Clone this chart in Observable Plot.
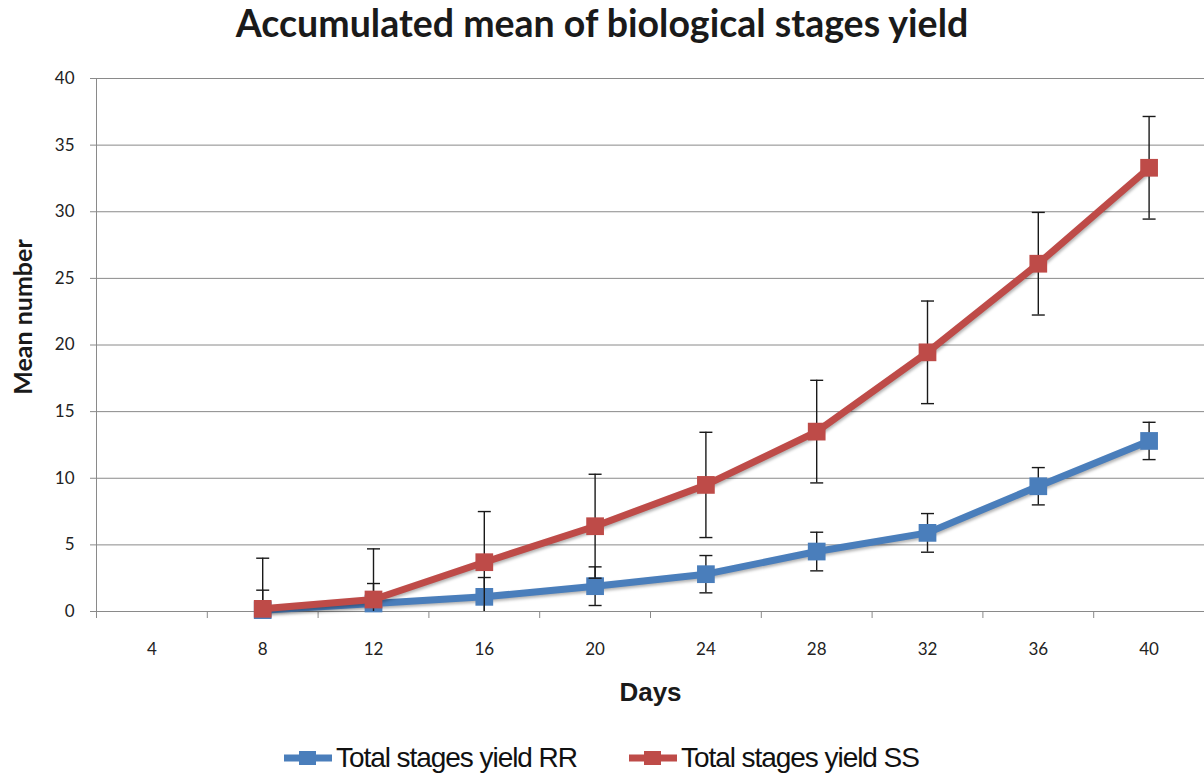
<!DOCTYPE html>
<html><head><meta charset="utf-8">
<script src="https://cdn.jsdelivr.net/npm/d3@7"></script>
<script src="https://cdn.jsdelivr.net/npm/@observablehq/plot@0.6"></script>
<style>
body{margin:0;background:#fff;width:1204px;height:774px;overflow:hidden;position:relative;}
#title{position:absolute;left:0;top:5px;width:1204px;text-align:center;font:bold 37.5px Lato,sans-serif;line-height:36px;color:#1a1a1a;}
#chart{position:absolute;left:0;top:56px;}
.leg{position:absolute;top:742px;height:31px;display:flex;align-items:center;font-family:"Liberation Sans",Arial,sans-serif;font-size:28px;letter-spacing:-1.05px;line-height:31px;color:#111;white-space:nowrap;}
.leg svg{margin-right:3px;}
</style></head><body>
<div id="title">Accumulated mean of biological stages yield</div>
<div id="chart"></div>
<div id="legend"></div>
<script>
// Category ticks on the x axis (Days)
const dayTicks = [4, 8, 12, 16, 20, 24, 28, 32, 36, 40];
// Days with data
const days = [8, 12, 16, 20, 24, 28, 32, 36, 40];
// Total stages yield RR: mean and error
const rrMean = [0.1, 0.6, 1.1, 1.9, 2.8, 4.5, 5.9, 9.4, 12.8];
const rrErr  = [1.5, 1.5, 1.45, 1.45, 1.4, 1.45, 1.45, 1.4, 1.4];
// Total stages yield SS: mean and error
const ssMean = [0.2, 0.9, 3.7, 6.4, 9.5, 13.5, 19.45, 26.1, 33.3];
const ssErr  = [3.8, 3.8, 3.8, 3.9, 3.95, 3.85, 3.85, 3.85, 3.85];
// Y ticks
const yTicks = [0, 5, 10, 15, 20, 25, 30, 35, 40];
const seriesNames = ["Total stages yield RR", "Total stages yield SS"];
const seriesColors = ["#4a7ebb", "#be4b48"];

const rr = days.map((d, i) => ({day: d, mean: rrMean[i], err: rrErr[i]}));
const ss = days.map((d, i) => ({day: d, mean: ssMean[i], err: ssErr[i]}));
const boundaries = [dayTicks[0] - 2, ...dayTicks.map(d => d + 2)];

const cap = {draw(ctx) { ctx.moveTo(-6.5, 0); ctx.lineTo(6.5, 0); }};
const errMarks = (rows) => [
  Plot.ruleX(rows, {x: "day", y1: d => d.mean - d.err, y2: d => d.mean + d.err, stroke: "#1a1a1a", strokeWidth: 1.4, clip: true}),
  Plot.dot(rows, {x: "day", y: d => d.mean + d.err, symbol: cap, stroke: "#1a1a1a", strokeWidth: 1.4, fill: "none", clip: true}),
  Plot.dot(rows, {x: "day", y: d => d.mean - d.err, symbol: cap, stroke: "#1a1a1a", strokeWidth: 1.4, fill: "none", clip: true})
];
const seriesMarks = (rows, color) => [
  Plot.line(rows, {x: "day", y: "mean", stroke: color, strokeWidth: 7, strokeLinejoin: "round"}),
  Plot.dot(rows, {x: "day", y: "mean", symbol: "square", r: 10, fill: color, stroke: "none"})
];

const chart = Plot.plot({
  width: 1204, height: 666,
  marginLeft: 96, marginRight: 0, marginTop: 22, marginBottom: 111,
  x: {domain: [boundaries[0], boundaries[boundaries.length - 1]]},
  y: {domain: [0, 40]},
  style: {fontFamily: "Lato, sans-serif", fontSize: "17px", color: "#222", background: "white", overflow: "visible"},
  marks: [
    Plot.gridY(yTicks.filter(v => v > 0), {stroke: "#8a8a8a", strokeOpacity: 1}),
    Plot.ruleY([0], {stroke: "#8a8a8a"}),
    Plot.ruleX([boundaries[0]], {stroke: "#8a8a8a"}),
    Plot.axisY({ticks: yTicks, tickSize: 6, tickPadding: 16, stroke: "#8a8a8a", fill: "#222", label: null}),
    Plot.axisX({ticks: boundaries, tickSize: 7, tickFormat: () => "", stroke: "#8a8a8a", label: null}),
    Plot.axisX({ticks: dayTicks, tickSize: 0, tickPadding: 31, fill: "#222", label: null}),
    ...errMarks(rr),
    ...seriesMarks(rr, seriesColors[0]),
    ...errMarks(ss),
    ...seriesMarks(ss, seriesColors[1]),
    Plot.text(["Days"], {text: d => d, frameAnchor: "bottom", textAnchor: "middle", lineAnchor: "middle", dy: 81, fontWeight: "bold", fontSize: 26, fontFamily: "Liberation Sans, Arial, sans-serif", fill: "#1a1a1a"}),
    Plot.text(["Mean number"], {text: d => d, frameAnchor: "left", textAnchor: "middle", lineAnchor: "middle", rotate: -90, dx: -73, dy: -28, fontWeight: "bold", fontSize: 25, fill: "#1a1a1a"})
  ]
});
document.getElementById("chart").append(chart);
// subtle drop shadow on series lines
d3.select(chart).selectAll('g[aria-label="line"]').style("filter", "drop-shadow(1px 2px 1.5px rgba(0,0,0,0.3))");

// Legend
const legend = document.getElementById("legend");
const legLeft = [283, 628];
seriesNames.forEach((name, i) => {
  const div = document.createElement("div");
  div.className = "leg";
  div.style.left = legLeft[i] + "px";
  div.innerHTML = `<svg width="50" height="20"><line x1="1" y1="10" x2="49" y2="10" stroke="${seriesColors[i]}" stroke-width="7"/><rect x="16" y="3" width="17" height="14" fill="${seriesColors[i]}"/></svg><span>${name}</span>`;
  legend.append(div);
});
</script>
</body></html>
